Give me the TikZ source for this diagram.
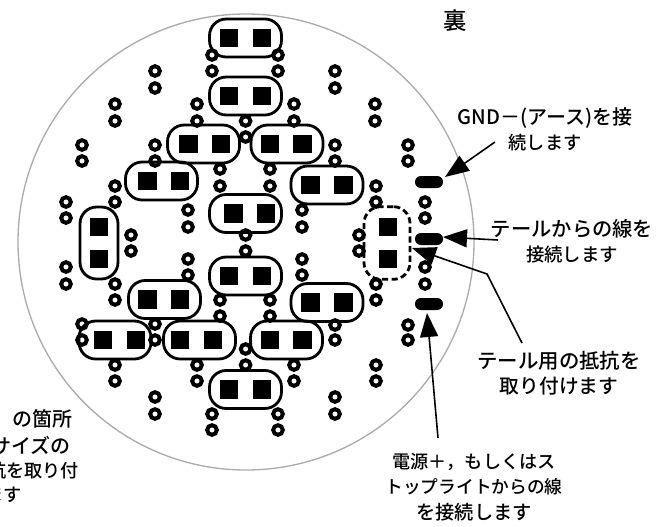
\documentclass[tikz,border=0pt]{standalone}
\usepackage{fontspec}
\usetikzlibrary{arrows.meta}
\setmainfont{Noto Sans CJK JP Medium}
\newcommand{\fsz}[2]{{\fontsize{#1pt}{19pt}\selectfont #2}}
\tikzset{
  x=0.75pt,y=-0.75pt,
  board/.style={draw=black!33,line width=1pt},
  capsule/.style={draw=black,line width=2.1pt,rounded corners=12.5pt,minimum width=54pt,minimum height=28.5pt,inner sep=0pt},
  capsulev/.style={capsule,minimum width=28.5pt,minimum height=54pt},
  capsuledash/.style={draw=black,line width=2.1pt,dash pattern=on 4.6pt off 2.6pt,rounded corners=12.5pt,inner sep=0pt,minimum width=34.5pt,minimum height=54.5pt},
  squarepad/.style={fill=black,minimum size=13.8pt,inner sep=0pt},
  oval/.style={fill=black,rounded corners=4.4pt,minimum width=21pt,minimum height=9pt,inner sep=0pt},
  via/.style={draw=black,line width=3pt,circle,minimum size=7.2pt,inner sep=0pt},
  lbl/.style={align=center,inner sep=0pt,font=\fontsize{14.5pt}{19pt}\selectfont},
  pointer/.style={draw=black,line width=1.2pt,-{Triangle[length=18pt,width=13.5pt]}},
}
\begin{document}
\begin{tikzpicture}
\useasboundingbox (0,0) rectangle (661,526);
\fill[white] (0,0) rectangle (661,526);
\node[circle,board,minimum size=342pt,inner sep=0pt] (boardc) at (246,242) {};
% vias
\foreach \i/\x/\a/\b in {1/212/55/71,2/278/55/71,3/155/71/88,4/115/104/121,5/197/104/121,6/294/104/121,7/245.6/121/137,8/82/145/161,9/155/145/161,10/220/169/186,11/270/169/186,12/115/186/202,13/66/202/218,14/188/210/227,15/302/210/227,16/131/235/251,17/245.6/235/251,18/188/259/275,19/302/259/275,20/66/267/284,21/115/284/300,22/220/300/316,23/270/300/316,24/82/324/340,25/155/324/340,26/245.6/349/365,27/115/365/381,28/197/365/381,29/294/365/381,30/155/397/414,31/212/414/430,32/278/414/430,33/335/397/414,34/335/71/88,35/375/104/121,36/335/145/161,37/408/145/161,38/376/186/202,39/425/202/218,40/359/235/251,41/425/267/284,42/376/284/300,43/335/325/340,44/408/325/340,45/376/365/381}{
  \node[via] (va\i) at (\x,\a) {};
  \node[via] (vb\i) at (\x,\b) {};
}
% horizontal capsules: name/center x/center y/left sq/right sq
\foreach \n/\x/\y/\l/\r in {a/245.5/38/229/262,b/245.5/96/229/262,c/203.5/144/188.5/221,d/287/144/270/302.5,e/161.5/181/147.5/180,f/327/185/310.5/343.5,g/245.5/213.5/233.5/266,h/245.5/276/229/262,i/164.5/299.5/147.5/180,j/327/302.5/310.5/343.5,k/115/340/103/136,l/199.5/340/180/213,m/286.5/340/270/302.5,o/245.5/389.5/229/262}{
  \node[capsule] (cap\n) at (\x,\y) {};
  \node[squarepad] (sl\n) at (\l,\y) {};
  \node[squarepad] (sr\n) at (\r,\y) {};
}
% vertical capsule
\node[capsulev] (capv) at (99,243) {};
\node[squarepad] (svt) at (99,227) {};
\node[squarepad] (svb) at (99,259) {};
% dashed capsule
\node[capsuledash] (capd) at (387,243) {};
\node[squarepad] (sdt) at (388,227) {};
\node[squarepad] (sdb) at (388,259) {};
% ovals
\node[oval] (ov1) at (429,182) {};
\node[oval] (ov2) at (429,239) {};
\node[oval] (ov3) at (429,304) {};
% labels
\node[inner sep=0pt,font=\fontsize{17.5pt}{20pt}\selectfont] (ura) at (455,21) {裏};
\node[lbl] (gnd) at (545,129) {\fsz{15}{GND－(アース)を接}\\\fsz{13.6}{続します}};
\node[lbl] (tail) at (572,241) {\fsz{15.2}{テールからの線を}\\\fsz{13.8}{接続します}};
\node[lbl] (resi) at (559,373) {\fsz{15.3}{テール用の抵抗を}\\\fsz{14.8}{取り付けます}};
\node[lbl] (pow) at (474,487) {\fsz{13.6}{電源＋，もしくはス}\\\fsz{13.3}{トップライトからの線}\\\fsz{14.4}{を接続します}};
\begin{scope}
\clip (0,0) rectangle (661,526);
\node[inner sep=0pt,anchor=east,font=\fontsize{15pt}{19pt}\selectfont] (n1) at (73,419) {の箇所};
\node[inner sep=0pt,anchor=east,font=\fontsize{15pt}{19pt}\selectfont] (n2) at (71,445) {サイズの};
\node[inner sep=0pt,anchor=east,font=\fontsize{13.6pt}{19pt}\selectfont] (n3) at (79,471) {抗を取り付};
\node[inner sep=0pt,anchor=east,font=\fontsize{13.6pt}{19pt}\selectfont] (n4) at (22,495) {ます};
\end{scope}
% connectors
\coordinate (g0) at (495,142);
\coordinate (g1) at (445,177);
\coordinate (t0) at (498,240);
\coordinate (t1) at (443,237);
\coordinate (r0) at (522,343);
\coordinate (r1) at (487,274);
\coordinate (r2) at (412,248);
\coordinate (p0) at (438,438);
\coordinate (p1) at (427,313);
\draw[pointer] (g0) -- (g1);
\draw[pointer] (t0) -- (t1);
\draw[pointer] (r0) -- (r1) -- (r2);
\draw[pointer] (p0) -- (p1);
\end{tikzpicture}
\end{document}
